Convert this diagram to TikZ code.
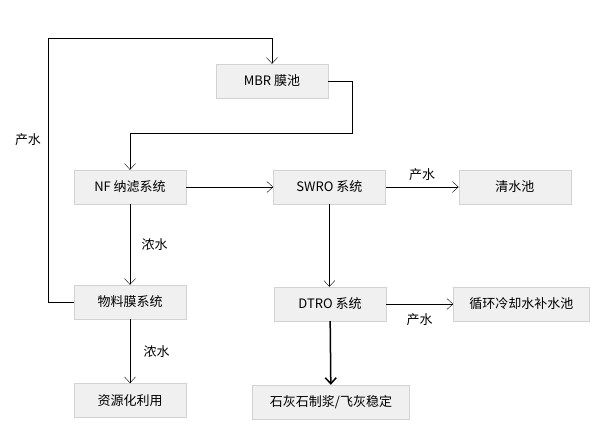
\documentclass[tikz,border=0pt]{standalone}
\usepackage{fontspec}
\setmainfont{Noto Sans CJK SC}
\usetikzlibrary{positioning, arrows.meta}
\tikzset{
->, % all connectors are directed
>={Straight Barb[length=6pt,width=11pt]}, % open arrow heads
line width=1pt,
every node/.style={font=\fontsize{13}{15}\selectfont}, % text size of every node
box/.style={draw=gray!35, fill=gray!12, minimum width=112pt, minimum height=34pt, inner sep=0pt}, % process boxes
}

\begin{document}
\begin{tikzpicture}[x=1pt, y=-1pt]
                \useasboundingbox (0,0) rectangle (616,445);
                \node[box] (mbr) at (272,81) {MBR 膜池};
                \node[box] (nf) at (130,187) {NF 纳滤系统};
                \node[box, right=87pt of nf] (swro) {SWRO 系统};
                \node[box, right=73pt of swro] (pool) {清水池};
                \node[box] (dtro) at (330,304) {DTRO 系统};
                \node[box, minimum width=136pt, right=67pt of dtro] (cool) {循环冷却水补水池};
                \node[box] (wuliao) at (130,302) {物料膜系统};
                \node[box, below=64pt of wuliao] (ziyuan) {资源化利用};
                \node[box, minimum width=157pt] (shihui) at (331,402) {石灰石制浆/飞灰稳定};
                \node (back) at (28,140) {产水};
                \coordinate (loopL) at (48,38);
                \coordinate (mbrR) at (352,133);
                \draw (wuliao.west) -| (loopL) -| (mbr.north);
                \draw (mbr.east) -| (mbrR) -| (nf.north);
                \draw (nf) -- (swro);
                \draw (swro) -- node[above=3pt] (p1) {产水} (pool);
                \draw (swro.south) -- (swro.south |- dtro.north);
                \draw (dtro) -- node[below=6pt] (p2) {产水} (cool);
                \draw (nf) -- node[right=8pt] (c1) {浓水} (wuliao);
                \draw (wuliao) -- node[right=10pt] (c2) {浓水} (ziyuan);
                \draw[line width=1.5pt] (dtro) -- (shihui);
                \end{tikzpicture}
\end{document}
